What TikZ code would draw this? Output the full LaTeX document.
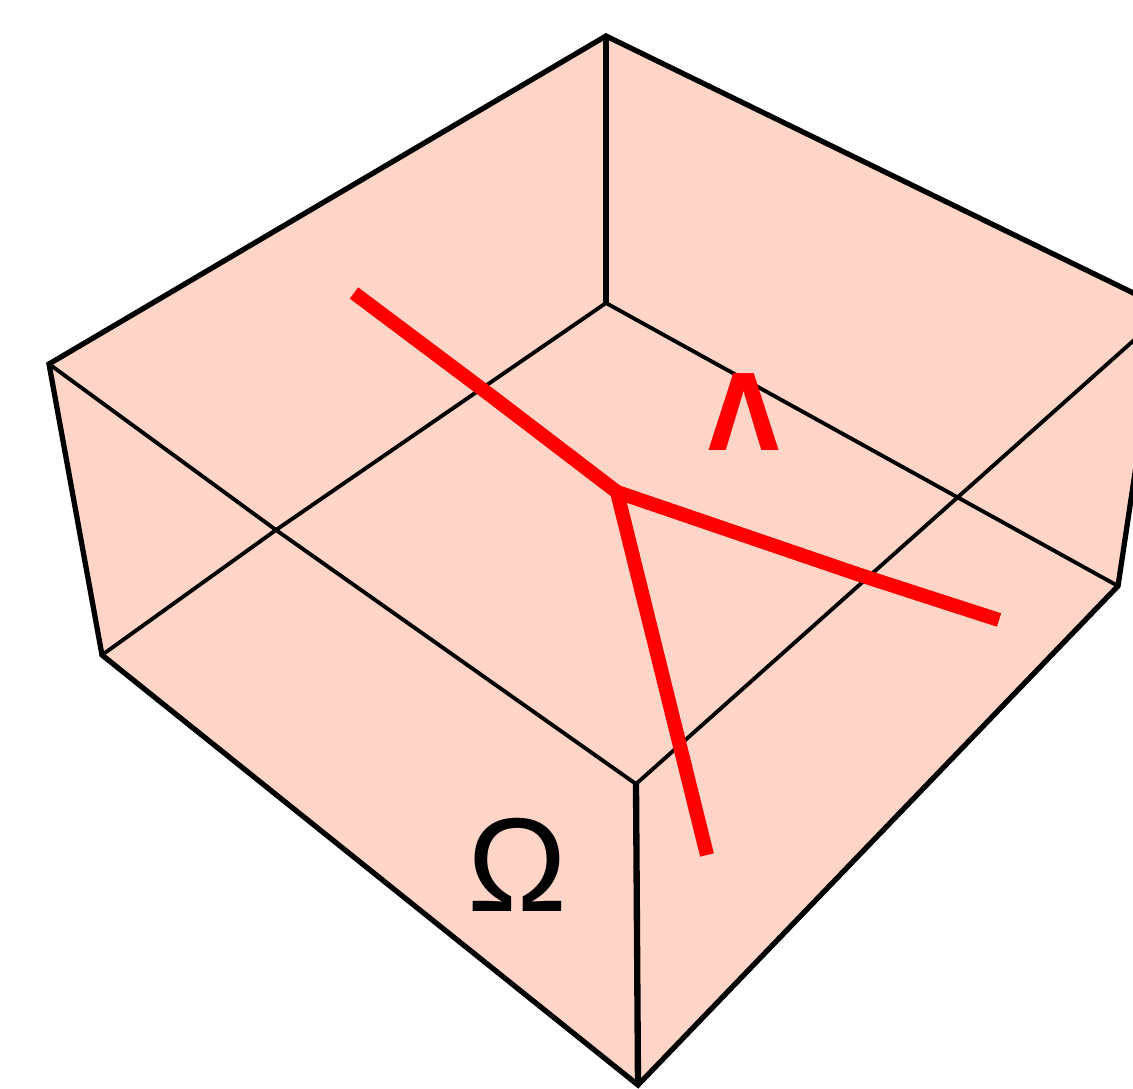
\documentclass[tikz,border=0pt]{standalone}
\usepackage{fontspec}
\newfontfamily\lamfont{DejaVu Sans}
\newfontfamily\omegafont{Liberation Sans}
\definecolor{boxfill}{HTML}{FFD5C8}

\begin{document}
\begin{tikzpicture}[
    x=0.01cm, y=-0.01cm,
    % box edges and the red network
    outerEdge/.style={line width=1.5pt, draw=black, line join=miter},
    innerEdge/.style={line width=1.1pt, draw=black},
    crackLine/.style={line width=4pt, draw=red, line join=round}
]
    \useasboundingbox (0,0) rectangle (1133,1089);
    \clip (0,0) rectangle (1133,1089);

    % corners of the box
    \coordinate (topBack) at (606,36);
    \coordinate (topLeft) at (49,364);
    \coordinate (topRight) at (1160,306);
    \coordinate (innerRight) at (1160,317);
    \coordinate (topFront) at (636,784);
    \coordinate (lowBack) at (606,303);
    \coordinate (lowLeft) at (102,655);
    \coordinate (lowRight) at (1118,586);
    \coordinate (lowFront) at (638,1085);
    \coordinate (crossLeft) at (276,530);

    % shaded faces
    \fill[boxfill] (topBack) -- (topLeft) -- (lowLeft) -- (lowFront) -- (lowRight) -- (topRight) -- cycle;

    % inner edges
    \draw[innerEdge] (lowBack) -- (crossLeft) -- (lowLeft);
    \draw[innerEdge] (lowBack) -- (lowRight);
    \draw[innerEdge] (topLeft) -- (crossLeft) -- (topFront);
    \draw[innerEdge] (topFront) -- (innerRight);
    \draw[outerEdge] (topBack) -- (lowBack);

    % outer edges
    \draw[outerEdge] (topBack) -- (topLeft) -- (lowLeft) -- (lowFront) -- (lowRight) -- (topRight) -- cycle;
    \draw[outerEdge, line width=1.8pt] (topFront) -- (lowFront);

    % red lines meeting at one point
    \coordinate (junction) at (617,492);
    \coordinate (endLeft) at (354,293);
    \coordinate (endRight) at (999,620);
    \coordinate (endDown) at (707,855);
    \draw[crackLine] (endLeft) -- (490,395) -- (junction);
    \draw[crackLine] (junction) -- (860,575) -- (endRight);
    \draw[crackLine] (junction) -- (endDown);

    % labels
    \node[text=red, inner sep=0pt, xscale=0.87, font=\lamfont\bfseries\fontsize{30}{30}\selectfont] (lambdaLabel) at (744,412) {Λ};
    \node[inner sep=0pt, font=\omegafont\fontsize{38}{38}\selectfont] (omegaLabel) at (517,865) {Ω};
\end{tikzpicture}
\end{document}
